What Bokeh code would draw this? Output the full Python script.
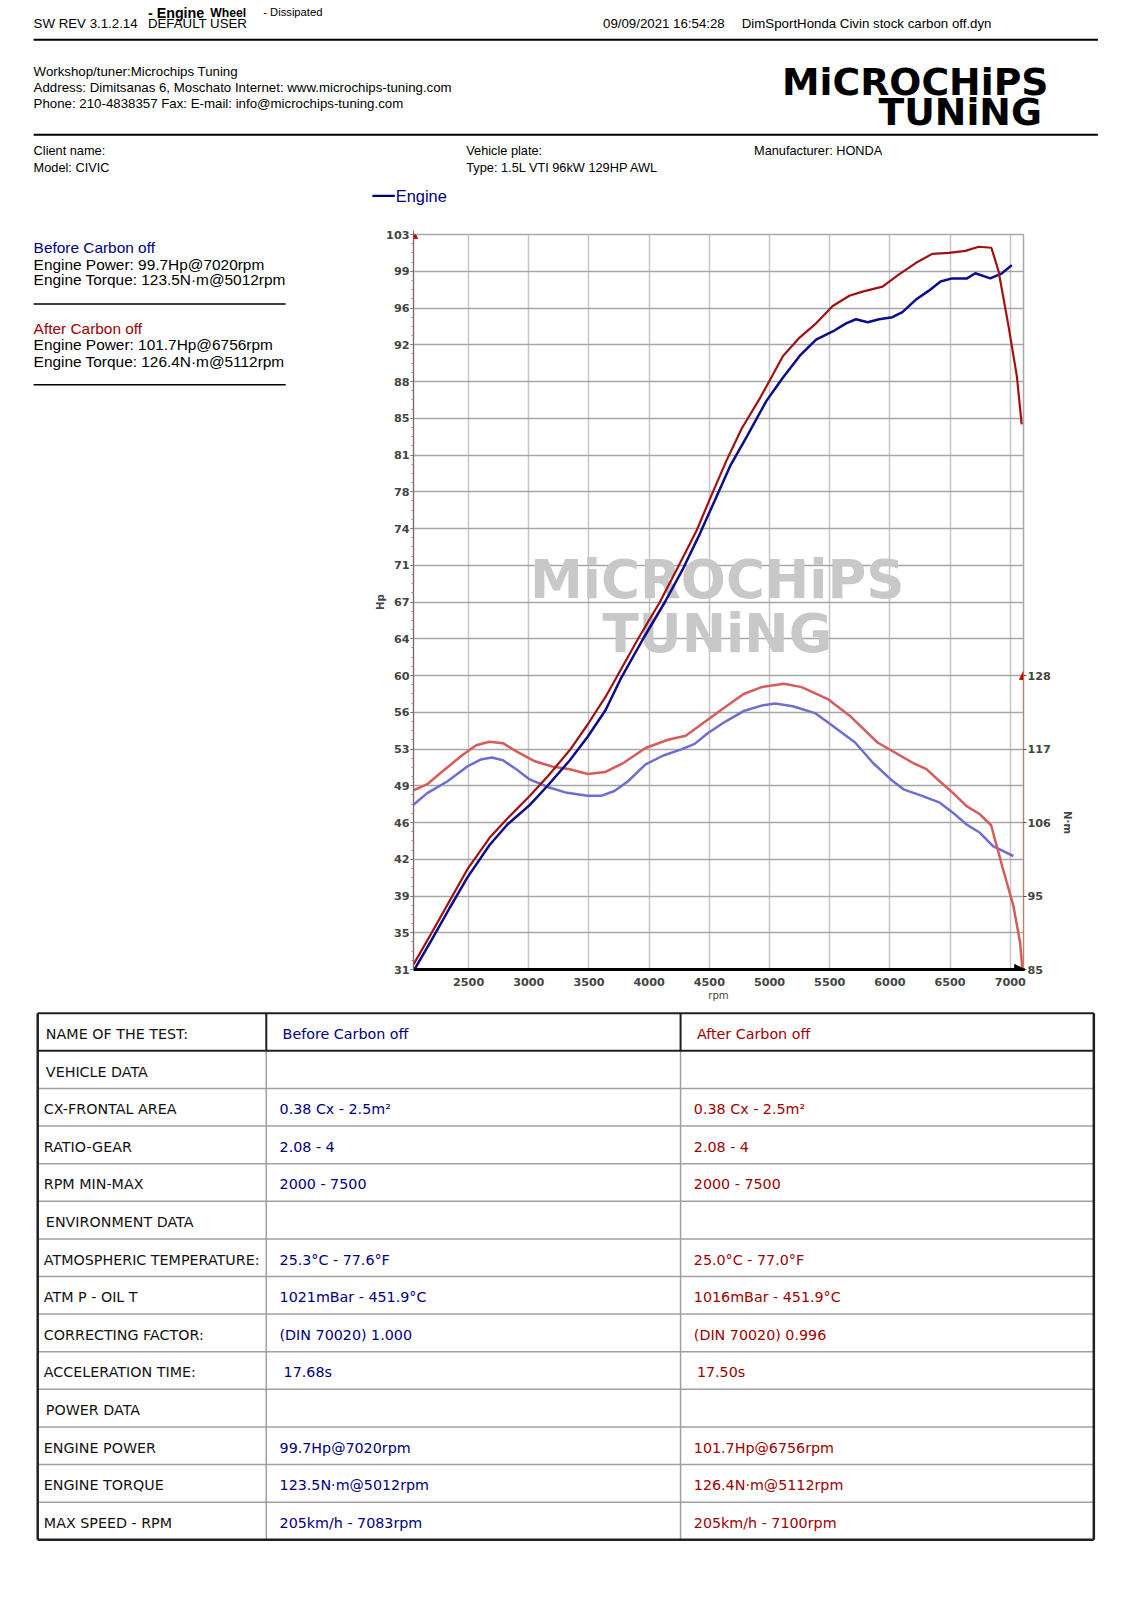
import math
from bokeh.plotting import figure
from bokeh.layouts import column, row
from bokeh.models import Range1d, LinearAxis, FixedTicker, Label, Arrow, NormalHead
from bokeh.core.properties import value
from bokeh.embed import file_html
from bokeh.resources import INLINE

# ---------------- DATA ----------------
before_power_rpm = [2050, 2193, 2341, 2489, 2674, 2822, 3007, 3156, 3341, 3489, 3637, 3769, 3950, 4131,
                    4283, 4422, 4547, 4672, 4811, 4974, 5112, 5250, 5387, 5525, 5636, 5718, 5815, 5911,
                    6021, 6104, 6214, 6324, 6421, 6517, 6641, 6710, 6834, 6931, 7013]
before_power_hp = [31.0, 33.9, 37.0, 40.0, 43.2, 45.2, 47.1, 49.0, 51.5, 53.8, 56.4, 59.6, 63.4, 67.0,
                   70.3, 73.7, 77.0, 80.3, 83.2, 86.7, 89.0, 91.1, 92.7, 93.5, 94.3, 94.7, 94.4, 94.7,
                   94.9, 95.4, 96.6, 97.5, 98.4, 98.7, 98.7, 99.2, 98.7, 99.2, 100.0]

after_power_rpm = [2042, 2193, 2341, 2489, 2674, 2822, 3007, 3156, 3341, 3489, 3637, 3728, 3908, 4089,
                   4256, 4394, 4519, 4644, 4769, 4922, 5112, 5250, 5387, 5525, 5663, 5773, 5939, 6076,
                   6214, 6352, 6490, 6628, 6738, 6843, 6903, 6986, 7055, 7095]
after_power_hp = [31.5, 34.6, 37.7, 40.8, 43.9, 45.8, 48.0, 49.9, 52.5, 55.0, 57.7, 59.6, 63.4, 67.0,
                  70.8, 74.0, 77.5, 80.9, 84.0, 87.0, 91.1, 92.9, 94.3, 96.0, 97.0, 97.4, 97.9, 99.1,
                  100.2, 101.1, 101.2, 101.4, 101.8, 101.7, 99.4, 94.0, 89.1, 84.4]

before_torque_rpm = [2042, 2156, 2322, 2489, 2600, 2693, 2785, 2896, 3007, 3156, 3304, 3489, 3600, 3711,
                     3822, 3970, 4118, 4267, 4378, 4489, 4637, 4785, 4934, 5045, 5193, 5378, 5526, 5711,
                     5860, 6007, 6119, 6267, 6415, 6526, 6637, 6748, 6859, 7026]
before_torque_nm = [109.1, 110.8, 112.5, 114.7, 115.7, 116.0, 115.6, 114.3, 112.8, 111.7, 110.9, 110.4,
                    110.4, 111.1, 112.5, 115.0, 116.3, 117.2, 118.0, 119.6, 121.3, 122.8, 123.6, 123.9,
                    123.5, 122.5, 120.6, 118.2, 115.2, 112.8, 111.3, 110.4, 109.4, 107.9, 106.2, 105.0,
                    103.0, 101.6]

after_torque_rpm = [2042, 2156, 2304, 2452, 2563, 2674, 2785, 2896, 3044, 3193, 3341, 3489, 3637, 3785,
                    3970, 4156, 4304, 4452, 4600, 4785, 4934, 5119, 5267, 5489, 5674, 5897, 6045, 6193,
                    6304, 6415, 6526, 6637, 6748, 6841, 6933, 7026, 7082, 7100]
after_torque_nm = [111.2, 112.1, 114.3, 116.4, 117.8, 118.3, 118.1, 116.9, 115.5, 114.7, 114.3, 113.6,
                   113.9, 115.2, 117.4, 118.6, 119.2, 121.1, 123.0, 125.3, 126.3, 126.8, 126.3, 124.5,
                   122.0, 118.2, 116.7, 115.2, 114.3, 112.5, 110.8, 108.9, 107.7, 106.1, 100.1, 94.3,
                   88.9, 85.2]

x_ticks = [2500, 3000, 3500, 4000, 4500, 5000, 5500, 6000, 6500, 7000]
hp_tick_labels = ["31", "35", "39", "42", "46", "49", "53", "56", "60", "64", "67",
                  "71", "74", "78", "81", "85", "88", "92", "96", "99", "103"]
nm_tick_labels = ["85", "95", "106", "117", "128"]

table_labels = ["NAME OF THE TEST:", "VEHICLE DATA", "CX-FRONTAL AREA", "RATIO-GEAR", "RPM MIN-MAX",
                "ENVIRONMENT DATA", "ATMOSPHERIC TEMPERATURE:", "ATM P - OIL T", "CORRECTING FACTOR:",
                "ACCELERATION TIME:", "POWER DATA", "ENGINE POWER", "ENGINE TORQUE", "MAX SPEED - RPM"]
table_before = ["Before Carbon off", "", "0.38 Cx - 2.5m²", "2.08 - 4", "2000 - 7500", "",
                "25.3°C - 77.6°F", "1021mBar - 451.9°C", "(DIN 70020) 1.000", "17.68s", "",
                "99.7Hp@7020rpm", "123.5N·m@5012rpm", "205km/h - 7083rpm"]
table_after = ["After Carbon off", "", "0.38 Cx - 2.5m²", "2.08 - 4", "2000 - 7500", "",
               "25.0°C - 77.0°F", "1016mBar - 451.9°C", "(DIN 70020) 0.996", "17.50s", "",
               "101.7Hp@6756rpm", "126.4N·m@5112rpm", "205km/h - 7100rpm"]
section_rows = [0, 1, 5, 10]

NAVY = "#000080"
DRED = "#A00000"
C_BP = "#0C0C8E"
C_AP = "#A01212"
C_BT = "#6E6ED2"
C_AT = "#D65C5C"
SANS = "Liberation Sans"
TAB = "DejaVu Sans"

# page px -> drawing units (compensates the photograph's scale)
S = 1 / 0.98
OFF = 7.3 / 0.98


def inv(p):
    return (p - OFF) / S


def fs(px):
    return "%.2fpx" % (px * S)


def blank(w, h, px0, px1, py0, py1):
    p = figure(width=w, height=h, x_range=Range1d(inv(px0), inv(px1)), y_range=Range1d(inv(py1), inv(py0)),
               output_backend="svg", toolbar_location=None, x_axis_type=None, y_axis_type=None,
               min_border=0)
    p.outline_line_color = None
    p.background_fill_color = "white"
    p.border_fill_color = "white"
    return p


def txt(p, x, y, s, size=13, color="black", font=SANS, style="normal", align="left"):
    p.text(x=[x], y=[y], text=[s], text_font=value(font), text_font_size=fs(size), text_color=color,
           text_font_style=style, text_align=align, text_baseline="middle")


# page layout
HEAD_BOT = 222
ROW_BOT = 1018
TAB_BOT = 1559
LEFT_W = 365
CH_W = 751
MB_L, MB_R, MB_T, MB_B = 48, 93, 20, 41
FR_L = 8 + LEFT_W + MB_L
FR_R = 1124 - MB_R
FR_T = HEAD_BOT + MB_T
FR_B = ROW_BOT - MB_B

# ---------------- HEADER ----------------
hd = blank(1116, HEAD_BOT - 8, 8, 1124, 8, HEAD_BOT)
txt(hd, 33, 23, "SW REV 3.1.2.14")
txt(hd, 145, 23, "DEFAULT USER")
txt(hd, 145, 13, "- Engine", size=14, style="bold")
txt(hd, 206, 13, "Wheel", size=12, style="bold")
txt(hd, 258, 12, "- Dissipated", size=11)
txt(hd, 591, 23, "09/09/2021 16:54:28")
txt(hd, 727, 23, "DimSportHonda Civin stock carbon off.dyn")
hd.segment(x0=[33, 33], y0=[39, 132], x1=[1076, 1076], y1=[39, 132], line_color="black", line_width=2)
txt(hd, 33, 70, "Workshop/tuner:Microchips Tuning")
txt(hd, 33, 86, "Address: Dimitsanas 6, Moschato Internet: www.microchips-tuning.com")
txt(hd, 33, 101, "Phone: 210-4838357 Fax:  E-mail: info@microchips-tuning.com")
txt(hd, 897, 80, "MiCROCHiPS", size=37, font="DejaVu Sans", style="bold", align="center")
txt(hd, 941, 110, "TUNiNG", size=37, font="DejaVu Sans", style="bold", align="center")
txt(hd, 33, 148, "Client name:", size=12.5)
txt(hd, 33, 164, "Model: CIVIC", size=12.5)
txt(hd, 457, 148, "Vehicle plate:", size=12.5)
txt(hd, 457, 164, "Type: 1.5L VTI 96kW 129HP AWL", size=12.5)
txt(hd, 739, 148, "Manufacturer: HONDA", size=12.5)
# legend of the chart
hd.segment(x0=[365], y0=[192], x1=[387], y1=[192], line_color=NAVY, line_width=2.2)
txt(hd, 388, 192, "Engine", size=16, color=NAVY)

# ---------------- LEFT INFO (frame aligned with chart frame) ----------------
lf = figure(width=LEFT_W, height=ROW_BOT - HEAD_BOT, x_range=Range1d(inv(8), inv(8 + LEFT_W)),
            y_range=Range1d(inv(FR_B), inv(FR_T)), output_backend="svg", toolbar_location=None,
            x_axis_type=None, y_axis_type=None, min_border=0)
lf.outline_line_color = None
txt(lf, 33, 243, "Before Carbon off", size=15.1, color=NAVY)
txt(lf, 33, 259, "Engine Power: 99.7Hp@7020rpm", size=15.1)
txt(lf, 33, 274, "Engine Torque: 123.5N·m@5012rpm", size=15.1)
txt(lf, 33, 322, "After Carbon off", size=15.1, color=DRED)
txt(lf, 33, 338, "Engine Power: 101.7Hp@6756rpm", size=15.1)
txt(lf, 33, 354, "Engine Torque: 126.4N·m@5112rpm", size=15.1)
lf.segment(x0=[33, 33], y0=[298, 377], x1=[280, 280], y1=[298, 377], line_color="black", line_width=1.5)

# ---------------- CHART ----------------
X0, X1 = 2042, 7110
HP0, HP1 = 31, 103
NM0, NM1 = 85, 192.5
RL, RR, RT, RB = inv(FR_L), inv(FR_R), inv(FR_T), inv(FR_B)


def rpm_at(px):
    return X0 + (px - RL) * (X1 - X0) / (RR - RL)


def hp_at(py):
    return HP0 + (RB - py) * (HP1 - HP0) / (RB - RT)


ch = figure(width=CH_W, height=ROW_BOT - HEAD_BOT, x_range=Range1d(X0, X1), y_range=Range1d(HP0, HP1),
            output_backend="svg", toolbar_location=None,
            min_border_left=MB_L, min_border_right=MB_R, min_border_top=MB_T, min_border_bottom=MB_B)
ch.background_fill_color = "white"
ch.border_fill_color = "white"
ch.outline_line_color = "#A8A8A8"
ch.outline_line_width = 1.5
ch.extra_y_ranges = {"nm": Range1d(NM0, NM1)}

hp_ticks = [round(HP0 + 3.6 * k, 1) for k in range(21)]
hp_minor = [round(HP0 + 0.9 * k, 2) for k in range(81)]
nm_ticks = [85, 95.75, 106.5, 117.25, 128]

xa = ch.xaxis[0]
xa.ticker = FixedTicker(ticks=x_ticks)
xa.axis_line_width = 3
xa.axis_line_color = "black"
xa.major_tick_line_color = None
xa.minor_tick_line_color = None
xa.major_label_text_font = "DejaVu Sans"
xa.major_label_text_font_style = "bold"
xa.major_label_text_font_size = fs(11)
xa.major_label_standoff = 2
xa.axis_label = "rpm"
xa.axis_label_text_font = "DejaVu Sans"
xa.axis_label_text_font_style = "normal"
xa.axis_label_text_font_size = fs(10)
xa.axis_label_standoff = 1

ya = ch.yaxis[0]
ya.ticker = FixedTicker(ticks=hp_ticks, minor_ticks=hp_minor)
ya.major_label_overrides = {t: lab for t, lab in zip(hp_ticks, hp_tick_labels)}
ya.axis_line_color = "#806060"
ya.axis_line_width = 1
ya.major_tick_in = 0
ya.major_tick_out = 3
ya.minor_tick_in = 0
ya.minor_tick_out = 2
ya.major_tick_line_color = "#604040"
ya.minor_tick_line_color = "#A08080"
ya.major_label_text_font = "DejaVu Sans"
ya.major_label_text_font_style = "bold"
ya.major_label_text_font_size = fs(11)
ya.major_label_standoff = 1
ya.axis_label = "Hp"
ya.axis_label_text_font = "DejaVu Sans"
ya.axis_label_text_font_style = "bold"
ya.axis_label_text_font_size = fs(10)
ya.axis_label_standoff = -3

ra = LinearAxis(y_range_name="nm", ticker=FixedTicker(ticks=nm_ticks), bounds=(85, 128))
ra.major_label_overrides = {t: lab for t, lab in zip(nm_ticks, nm_tick_labels)}
ra.axis_line_color = "#B08868"
ra.axis_line_width = 1
ra.major_tick_in = 0
ra.major_tick_out = 3
ra.major_tick_line_color = "#604040"
ra.minor_tick_line_color = None
ra.major_label_text_font = "DejaVu Sans"
ra.major_label_text_font_style = "bold"
ra.major_label_text_font_size = fs(11)
ra.major_label_standoff = 1
ch.add_layout(ra, "right")

# unit name of the torque axis, centred on the bounded torque scale
ua = LinearAxis(y_range_name="nm", ticker=FixedTicker(ticks=[106.5]), major_label_overrides={106.5: "N·m"})
ua.axis_line_color = None
ua.major_tick_line_color = None
ua.minor_tick_line_color = None
ua.major_label_orientation = "vertical"
ua.major_label_text_font = "DejaVu Sans"
ua.major_label_text_font_style = "bold"
ua.major_label_text_font_size = fs(10)
ua.major_label_standoff = 2
ch.add_layout(ua, "right")

ch.xgrid.grid_line_color = "#C6C6C6"
ch.xgrid.grid_line_width = 1.5
ch.ygrid.grid_line_color = "#A6A6A6"
ch.ygrid.grid_line_width = 1.5

# watermark
for s, py in (("MiCROCHiPS", 568), ("TUNiNG", 621)):
    ch.add_layout(Label(x=rpm_at(703), y=hp_at(py), text=s, text_align="center", text_baseline="middle",
                        text_font="DejaVu Sans", text_font_style="bold", text_font_size=fs(52),
                        text_color="#C8C8C8", level="underlay"))

ch.line(before_torque_rpm, before_torque_nm, y_range_name="nm", line_color=C_BT, line_width=2.5)
ch.line(after_torque_rpm, after_torque_nm, y_range_name="nm", line_color=C_AT, line_width=2.5)
ch.line(before_power_rpm, before_power_hp, line_color=C_BP, line_width=2.5)
ch.line(after_power_rpm, after_power_hp, line_color=C_AP, line_width=2.2)

# axis arrows
ch.add_layout(Arrow(end=NormalHead(size=8, fill_color="#CC0000", line_color="#CC0000"),
                    x_start=X0, y_start=101.5, x_end=X0, y_end=103.4, line_color="#806060", line_width=1))
ch.add_layout(Arrow(end=NormalHead(size=10, fill_color="black", line_color="black"),
                    x_start=6900, y_start=HP0, x_end=X1 + 10, y_end=HP0, line_color="black", line_width=3))
ch.add_layout(Arrow(end=NormalHead(size=8, fill_color="#CC0000", line_color="#CC0000"),
                    x_start=X1, y_start=125, x_end=X1, y_end=128.6, y_range_name="nm",
                    line_color="#B08868", line_width=1))

# ---------------- TABLE ----------------
tb = blank(1116, TAB_BOT - ROW_BOT, 8, 1124, ROW_BOT, TAB_BOT)
TOP, RH = 993, 36.86
COLS = [37, 261, 667, 1072]
n = len(table_labels)
BOT = TOP + n * RH
ys = [TOP + RH * (i + 1) for i in range(1, n - 1)]
tb.segment(x0=[COLS[0]] * len(ys), y0=ys, x1=[COLS[3]] * len(ys), y1=ys, line_color="#A0A0A0", line_width=1.5)
tb.segment(x0=[COLS[1], COLS[2]], y0=[TOP + RH] * 2, x1=[COLS[1], COLS[2]], y1=[BOT] * 2,
           line_color="#A0A0A0", line_width=1.5)
tb.segment(x0=[COLS[0], COLS[0], COLS[1], COLS[2]], y0=[TOP + RH, TOP, TOP, TOP],
           x1=[COLS[3], COLS[3], COLS[1], COLS[2]], y1=[TOP + RH, TOP, TOP + RH, TOP + RH],
           line_color="#202020", line_width=2)
tb.segment(x0=[COLS[0], COLS[3], COLS[0]], y0=[TOP, TOP, BOT], x1=[COLS[0], COLS[3], COLS[3]],
           y1=[BOT, BOT, BOT], line_color="#202020", line_width=2.5)

lab_x = [45 if i in section_rows else 43 for i in range(n)]
row_y = [TOP + RH * (i + 0.55) for i in range(n)]
tb.text(x=lab_x, y=row_y, text=table_labels, text_font=value(TAB), text_font_size=fs(14),
        text_color="#111111", text_baseline="middle")
bx = [277 if i == 0 else (278 if i == 9 else 274) for i in range(n)]
ax_ = [683 if i in (0, 9) else 680 for i in range(n)]
tb.text(x=bx, y=row_y, text=table_before, text_font=value(TAB), text_font_size=fs(14),
        text_color=NAVY, text_baseline="middle")
tb.text(x=ax_, y=row_y, text=table_after, text_font=value(TAB), text_font_size=fs(14),
        text_color=DRED, text_baseline="middle")

page = column(hd, row(lf, ch), tb)
open("out.html", "w").write(file_html(page, INLINE))
